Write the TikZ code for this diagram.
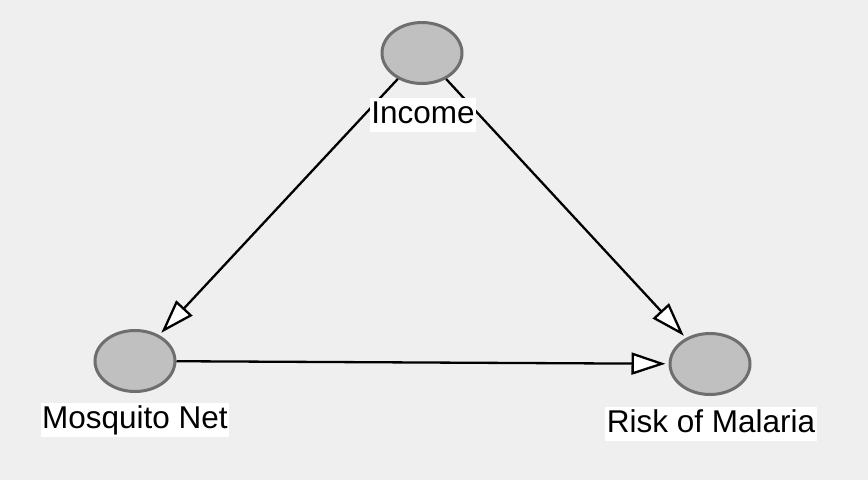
\documentclass[tikz,border=0pt]{standalone}
\usepackage{fontspec}
\setmainfont{Liberation Sans}
\usetikzlibrary{shapes.geometric, arrows.meta}

\definecolor{bggray}{HTML}{EFEFEF}
\definecolor{nodefill}{HTML}{C0C0C0}
\definecolor{nodeline}{HTML}{6E6E6E}

\tikzset{
	var/.style={ellipse, draw=nodeline, fill=nodefill, line width=3pt,
		minimum width=80pt, minimum height=61pt, inner sep=0pt},
	varlabel/.style={fill=white, inner sep=1.5pt, text height=24pt, text depth=7pt,
		font=\fontsize{31.5pt}{36pt}\selectfont},
	causal/.style={line width=2.3pt, shorten >=3pt,
		-{Triangle[length=34pt, width=22pt, fill=white, line width=2.3pt]}}
}

\begin{document}
\begin{tikzpicture}[x=1pt, y=-1pt]

		% Draw the background
		\fill[bggray] (0,0) rectangle (868,480);

		% Draw the variables
		\node[var] (income) at (422, 53) {};
		\node[var] (net) at (135, 361) {};
		\node[var] (malaria) at (710, 364) {};

		% Draw the causal arrows
		\draw[causal] (income) -- (net);
		\draw[causal] (income) -- (malaria);
		\draw[causal] (net) -- (malaria);

		% Draw the labels below the variables
		\node[varlabel] (incomelabel) at (423, 115) {Income};
		\node[varlabel] (netlabel) at (135, 420) {Mosquito Net};
		\node[varlabel] (malarialabel) at (711, 424) {Risk of Malaria};

	\end{tikzpicture}
\end{document}
